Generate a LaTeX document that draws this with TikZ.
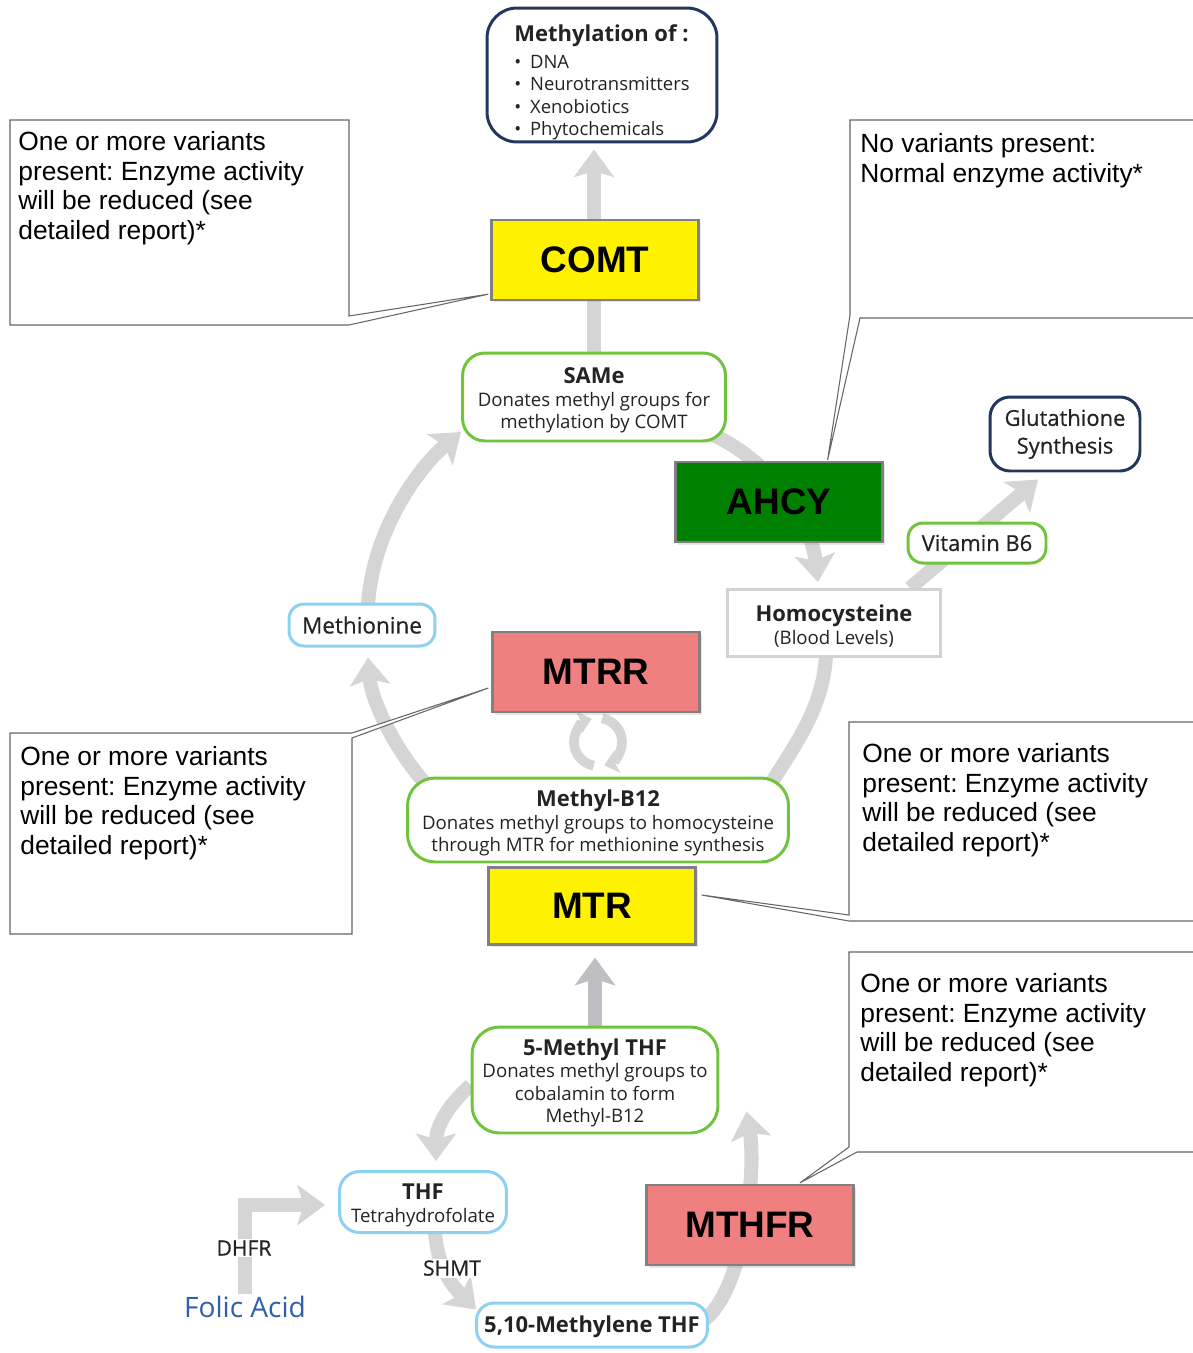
\documentclass[tikz,border=0pt]{standalone}
\usepackage{fontspec}
\setmainfont{Liberation Sans}
\newfontfamily\osans{Open Sans}
\newfontfamily\osansmid[FakeBold=0.5]{Open Sans}
\usepackage{xcolor}
\usepackage{tikz}
\usetikzlibrary{arrows.meta, calc, positioning, shadows}

\definecolor{flowgray}{RGB}{213,213,213}
\definecolor{stemgray}{RGB}{190,190,195}
\definecolor{navy}{RGB}{34,54,94}
\definecolor{leaf}{RGB}{112,196,60}
\definecolor{sky}{RGB}{140,208,242}
\definecolor{salmon}{RGB}{240,128,128}
\definecolor{ahcygreen}{RGB}{0,128,0}
\definecolor{folicblue}{RGB}{47,95,170}
\definecolor{ink}{RGB}{35,35,35}

\pgfdeclarelayer{back}
\pgfsetlayers{back,main}

\frenchspacing
\begin{document}
\begin{tikzpicture}[x=0.02cm, y=-0.02cm,
    enzyme/.style={draw=gray, line width=1.3pt, minimum width=4.14cm, minimum height=1.6cm,
        font=\fontsize{21}{24}\selectfont\bfseries,
        drop shadow={shadow xshift=0.05cm, shadow yshift=-0.05cm, opacity=0.2}},
    pill/.style={draw, line width=1.7pt, rounded corners=0.45cm, fill=white, align=center,
        text=ink, inner sep=0pt, font=\osans\fontsize{10.6}{12.8}\selectfont},
    head/.style={font=\osans\fontsize{12.5}{14}\selectfont\bfseries},
    note/.style={draw=gray!80!black, line width=0.6pt, fill=white},
    notetext/.style={anchor=north west, align=left, inner sep=0pt,
        font=\fontsize{15}{16.9}\selectfont},
    flow/.style={draw=flowgray, line width=8pt, -{Stealth[length=0.55cm, width=0.8cm, inset=0.12cm]}},
    band/.style={draw=flowgray, line width=8pt},
    cyc/.style={draw=flowgray, line width=5.5pt, -{Stealth[length=0.27cm, width=0.46cm, inset=0.05cm]}},
    tag/.style={fill=white, inner sep=1pt, font=\osansmid\fontsize{12}{14}\selectfont, text=ink}
]
    \useasboundingbox (0,0) rectangle (1193,1353);

    % 1. Enzymes
    \node[enzyme, fill=yellow] (comt) at (595,260) {COMT};
    \node[enzyme, fill=ahcygreen] (ahcy) at (779,502) {AHCY};
    \node[enzyme, fill=salmon] (mtrr) at (596,672) {MTRR};
    \node[enzyme, fill=yellow, minimum height=1.54cm] (mtr) at (592,906) {MTR};
    \node[enzyme, fill=salmon] (mthfr) at (750,1225) {MTHFR};

    % 2. Metabolites
    \node[pill, draw=navy, rounded corners=0.6cm, minimum width=4.6cm, minimum height=2.68cm,
          align=left, font=\osans\fontsize{10.5}{12.8}\selectfont] (methyl) at (602,75)
        {{\rule{0pt}{18pt}\fontsize{12.5}{16}\selectfont\bfseries Methylation of :}\\[2.5pt]
         \textbullet\hspace{5pt}DNA\\ \textbullet\hspace{5pt}Neurotransmitters\\
         \textbullet\hspace{5pt}Xenobiotics\\ \textbullet\hspace{5pt}Phytochemicals};
    \node[pill, draw=leaf, minimum width=5.26cm, minimum height=1.76cm] (same) at (594,397)
        {{\rule{0pt}{13pt}\fontsize{12.5}{14}\selectfont\bfseries SAMe}\\Donates methyl groups for\\methylation by COMT};
    \node[pill, draw=navy, rounded corners=0.4cm, minimum width=3cm, minimum height=1.48cm,
          font=\osansmid\fontsize{12.5}{15.8}\selectfont] (glut) at (1065,434) {Glutathione\\Synthesis};
    \node[pill, draw=leaf, rounded corners=0.3cm, minimum width=2.76cm, minimum height=0.8cm,
          font=\osansmid\fontsize{12.5}{14}\selectfont] (vitb6) at (977,543) {Vitamin B6};
    \node[pill, draw=gray!35, rounded corners=0pt, minimum width=4.26cm, minimum height=1.34cm] (homo) at (834,623)
        {{\rule{0pt}{13pt}\fontsize{12.5}{14}\selectfont\bfseries Homocysteine}\\(Blood Levels)};
    \node[pill, draw=sky, rounded corners=0.3cm, minimum width=2.92cm, minimum height=0.84cm,
          font=\osansmid\fontsize{12.8}{14}\selectfont] (meth) at (362,625) {Methionine};
    \node[pill, draw=leaf, rounded corners=0.55cm, minimum width=7.62cm, minimum height=1.68cm] (mb12) at (598,820)
        {{\rule{0pt}{13pt}\fontsize{12.5}{14}\selectfont\bfseries Methyl-B12}\\Donates methyl groups to homocysteine\\through MTR for methionine synthesis};
    \node[pill, draw=leaf, rounded corners=0.55cm, minimum width=4.92cm, minimum height=2.12cm] (mthf) at (595,1080)
        {{\rule{0pt}{13pt}\fontsize{12.5}{14}\selectfont\bfseries 5-Methyl THF}\\Donates methyl groups to\\cobalamin to form\\Methyl-B12};
    \node[pill, draw=sky, rounded corners=0.4cm, minimum width=3.34cm, minimum height=1.22cm] (thf) at (423,1202)
        {{\rule{0pt}{13pt}\fontsize{12.5}{14}\selectfont\bfseries THF}\\Tetrahydrofolate};
    \node[pill, draw=sky, rounded corners=0.35cm, minimum width=4.62cm, minimum height=0.88cm, head] (mlthf) at (592,1325)
        {\rule{0pt}{12pt}5,10-Methylene THF};
    \node[text=folicblue, font=\osans\fontsize{16}{18}\selectfont, inner sep=1pt] (folic) at (245,1307) {Folic Acid};
    \node[tag] (dhfr) at (244,1248) {DHFR};
    \node[tag] (shmt) at (452,1268) {SHMT};

    % 3. Pathway arrows
    \begin{pgfonlayer}{back}
        \draw[flow] (same.north) -- ($(same.north |- methyl.south)+(0,6)$);
        \draw[flow] ($(same.south east)+(-15,-8)$) .. controls +(50,22) and +(-8,-70) .. ($(homo.north)+(-16,-6)$);
        \draw[flow] ($(homo.north east)+(-32,0)$) -- ($(glut.south)+(-27,7)$);
        \draw[band] ($(homo.south)+(-8,-2)$) .. controls +(-3,50) and +(25,-40) .. ($(mb12.north east)+(-17,4)$);
        \draw[flow] ($(mb12.north west)+(20,8)$) .. controls +(-35,-40) and +(3,40) .. ($(meth.south)+(6,10)$);
        \draw[flow] ($(meth.north)+(6,2)$) .. controls +(5,-75) and +(-42,35) .. ($(same.west)+(0,35)$);
        \draw[flow, draw=stemgray] (mthf.north) -- ($(mthf.north |- mtr.south)+(0,12)$);
        \draw[flow] ($(mthf.west)+(0,5)$) .. controls +(-22,20) and +(0,-35) .. ($(thf.north)+(13,-9)$);
        \draw[flow] ($(thf.south)+(12,-2)$) .. controls +(3,40) and +(-20,-20) .. ($(mlthf.north west)+(1,8)$);
        \draw[flow] ($(mlthf.east)+(-5,-5)$) .. controls +(40,-30) and +(10,60) .. ($(mthf.south east)+(27,-23)$);
        \draw[flow] (folic.north) |- ($(thf.west)+(-13,3)$);
        % recycling between MTRR and Methyl-B12
        \draw[cyc] (598,742) ++(100:24) arc[start angle=100, end angle=255, radius=24];
        \draw[cyc] (598,742) ++(-80:24) arc[start angle=-80, end angle=75, radius=24];
    \end{pgfonlayer}

    % 4. Callouts
    \draw[note] (10,120) -- (349,120) -- (349,316) -- ($(comt.south west)+(-2,-7)$)
        -- (349,325) -- (10,325) -- cycle;
    \node[notetext] (comtnote) at (18,131)
        {One or more variants\\present: Enzyme activity\\will be reduced (see\\detailed report)*};
    \draw[note] (1197,120) -- (850,120) -- (850,315) -- ($(ahcy.north east)+(-56,-1)$)
        -- (860,318) -- (1197,318);
    \node[notetext] (ahcynote) at (860,133) {No variants present:\\Normal enzyme activity*};
    \draw[note] (10,733) -- (352,733) -- ($(mtrr.west)+(-3,16)$) -- (352,738)
        -- (352,934) -- (10,934) -- cycle;
    \node[notetext] (mtrrnote) at (20,746)
        {One or more variants\\present: Enzyme activity\\will be reduced (see\\detailed report)*};
    \draw[note] (1197,722) -- (849,722) -- (849,915) -- ($(mtr.east)+(5,-11)$)
        -- (849,921) -- (1197,921);
    \node[notetext] (mtrnote) at (862,743)
        {One or more variants\\present: Enzyme activity\\will be reduced (see\\detailed report)*};
    \draw[note] (1197,952) -- (849,952) -- (849,1147) -- ($(mthfr.north)+(50,-1)$)
        -- (857,1152) -- (1197,1152);
    \node[notetext] (mthfrnote) at (860,973)
        {One or more variants\\present: Enzyme activity\\will be reduced (see\\detailed report)*};
\end{tikzpicture}
\end{document}
